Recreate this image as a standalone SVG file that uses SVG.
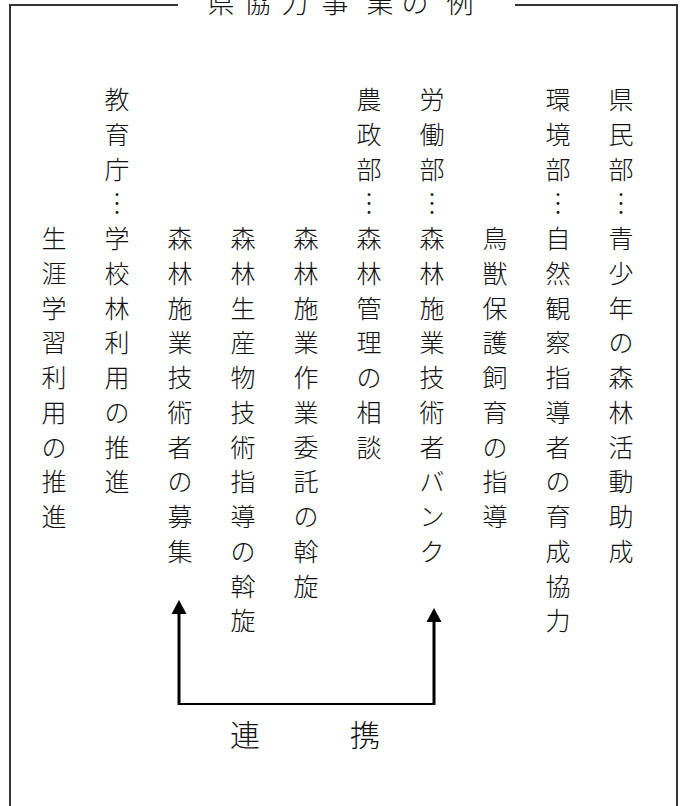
<svg xmlns="http://www.w3.org/2000/svg" width="683" height="806" viewBox="0 0 683 806">
<style>
.frame{fill:none;stroke:#333;stroke-width:2}
.t{font-family:"Noto Sans CJK JP","Noto Sans CJK SC",sans-serif;font-size:25px;font-weight:300;fill:#111;text-anchor:middle;dominant-baseline:central}
.lbl{font-family:"Noto Sans CJK JP","Noto Sans CJK SC",sans-serif;font-size:30px;font-weight:300;fill:#111;text-anchor:middle;dominant-baseline:central}
.title{font-family:"Noto Sans CJK JP","Noto Sans CJK SC",sans-serif;font-size:27px;font-weight:300;fill:#111;text-anchor:middle}
.shaft{fill:none;stroke:#000;stroke-width:3}
.link{fill:none;stroke:#000;stroke-width:2}
</style>
<defs>
<marker id="ah" markerUnits="userSpaceOnUse" markerWidth="16" markerHeight="16" viewBox="0 0 16 16" refX="0" refY="8" orient="auto">
<path d="M0,0.5 L14,8 L0,15.5 Z" fill="#000"/>
</marker>
</defs>
<rect width="683" height="806" fill="#fff"/>
<g id="frame">
<path class="frame" d="M178,5 H10 V810"/>
<path class="frame" d="M515,5 H677 V810"/>
</g>
<g id="title">
<text class="title" y="13"><tspan x="221">県</tspan><tspan x="257">協</tspan><tspan x="295">力</tspan><tspan x="335">事</tspan><tspan x="380">業</tspan><tspan x="415">の</tspan><tspan x="460">例</tspan></text>
</g>
<g id="col-kenmin">
<text class="t"><tspan x="621" y="98">県</tspan><tspan x="621" y="132.75">民</tspan><tspan x="621" y="167.5">部</tspan><tspan x="621" y="202.25">︙</tspan><tspan x="621" y="237">青</tspan><tspan x="621" y="271.75">少</tspan><tspan x="621" y="306.5">年</tspan><tspan x="621" y="341.25">の</tspan><tspan x="621" y="376">森</tspan><tspan x="621" y="410.75">林</tspan><tspan x="621" y="445.5">活</tspan><tspan x="621" y="480.25">動</tspan><tspan x="621" y="515">助</tspan><tspan x="621" y="549.75">成</tspan></text>
</g>
<g id="col-kankyo">
<text class="t"><tspan x="558" y="98">環</tspan><tspan x="558" y="132.75">境</tspan><tspan x="558" y="167.5">部</tspan><tspan x="558" y="202.25">︙</tspan><tspan x="558" y="237">自</tspan><tspan x="558" y="271.75">然</tspan><tspan x="558" y="306.5">観</tspan><tspan x="558" y="341.25">察</tspan><tspan x="558" y="376">指</tspan><tspan x="558" y="410.75">導</tspan><tspan x="558" y="445.5">者</tspan><tspan x="558" y="480.25">の</tspan><tspan x="558" y="515">育</tspan><tspan x="558" y="549.75">成</tspan><tspan x="558" y="584.5">協</tspan><tspan x="558" y="619.25">力</tspan></text>
</g>
<g id="col-choju">
<text class="t"><tspan x="495" y="237">鳥</tspan><tspan x="495" y="271.75">獣</tspan><tspan x="495" y="306.5">保</tspan><tspan x="495" y="341.25">護</tspan><tspan x="495" y="376">飼</tspan><tspan x="495" y="410.75">育</tspan><tspan x="495" y="445.5">の</tspan><tspan x="495" y="480.25">指</tspan><tspan x="495" y="515">導</tspan></text>
</g>
<g id="col-rodo">
<text class="t"><tspan x="432" y="98">労</tspan><tspan x="432" y="132.75">働</tspan><tspan x="432" y="167.5">部</tspan><tspan x="432" y="202.25">︙</tspan><tspan x="432" y="237">森</tspan><tspan x="432" y="271.75">林</tspan><tspan x="432" y="306.5">施</tspan><tspan x="432" y="341.25">業</tspan><tspan x="432" y="376">技</tspan><tspan x="432" y="410.75">術</tspan><tspan x="432" y="445.5">者</tspan><tspan x="432" y="480.25">バ</tspan><tspan x="432" y="515">ン</tspan><tspan x="432" y="549.75">ク</tspan></text>
</g>
<g id="col-nosei">
<text class="t"><tspan x="369" y="98">農</tspan><tspan x="369" y="132.75">政</tspan><tspan x="369" y="167.5">部</tspan><tspan x="369" y="202.25">︙</tspan><tspan x="369" y="237">森</tspan><tspan x="369" y="271.75">林</tspan><tspan x="369" y="306.5">管</tspan><tspan x="369" y="341.25">理</tspan><tspan x="369" y="376">の</tspan><tspan x="369" y="410.75">相</tspan><tspan x="369" y="445.5">談</tspan></text>
</g>
<g id="col-itaku">
<text class="t"><tspan x="306" y="237">森</tspan><tspan x="306" y="271.75">林</tspan><tspan x="306" y="306.5">施</tspan><tspan x="306" y="341.25">業</tspan><tspan x="306" y="376">作</tspan><tspan x="306" y="410.75">業</tspan><tspan x="306" y="445.5">委</tspan><tspan x="306" y="480.25">託</tspan><tspan x="306" y="515">の</tspan><tspan x="306" y="549.75">斡</tspan><tspan x="306" y="584.5">旋</tspan></text>
</g>
<g id="col-seisan">
<text class="t"><tspan x="243" y="237">森</tspan><tspan x="243" y="271.75">林</tspan><tspan x="243" y="306.5">生</tspan><tspan x="243" y="341.25">産</tspan><tspan x="243" y="376">物</tspan><tspan x="243" y="410.75">技</tspan><tspan x="243" y="445.5">術</tspan><tspan x="243" y="480.25">指</tspan><tspan x="243" y="515">導</tspan><tspan x="243" y="549.75">の</tspan><tspan x="243" y="584.5">斡</tspan><tspan x="243" y="619.25">旋</tspan></text>
</g>
<g id="col-boshu">
<text class="t"><tspan x="180" y="237">森</tspan><tspan x="180" y="271.75">林</tspan><tspan x="180" y="306.5">施</tspan><tspan x="180" y="341.25">業</tspan><tspan x="180" y="376">技</tspan><tspan x="180" y="410.75">術</tspan><tspan x="180" y="445.5">者</tspan><tspan x="180" y="480.25">の</tspan><tspan x="180" y="515">募</tspan><tspan x="180" y="549.75">集</tspan></text>
</g>
<g id="col-kyoiku">
<text class="t"><tspan x="117" y="98">教</tspan><tspan x="117" y="132.75">育</tspan><tspan x="117" y="167.5">庁</tspan><tspan x="117" y="202.25">︙</tspan><tspan x="117" y="237">学</tspan><tspan x="117" y="271.75">校</tspan><tspan x="117" y="306.5">林</tspan><tspan x="117" y="341.25">利</tspan><tspan x="117" y="376">用</tspan><tspan x="117" y="410.75">の</tspan><tspan x="117" y="445.5">推</tspan><tspan x="117" y="480.25">進</tspan></text>
</g>
<g id="col-shogai">
<text class="t"><tspan x="54" y="237">生</tspan><tspan x="54" y="271.75">涯</tspan><tspan x="54" y="306.5">学</tspan><tspan x="54" y="341.25">習</tspan><tspan x="54" y="376">利</tspan><tspan x="54" y="410.75">用</tspan><tspan x="54" y="445.5">の</tspan><tspan x="54" y="480.25">推</tspan><tspan x="54" y="515">進</tspan></text>
</g>
<g id="connectors">
<path class="link" d="M179,704 H434"/>
<path class="shaft" d="M179,705 V614" marker-end="url(#ah)"/>
<path class="shaft" d="M434,705 V622" marker-end="url(#ah)"/>
</g>
<g id="label-renkei">
<text class="lbl"><tspan x="245" y="733">連</tspan><tspan x="365" y="733">携</tspan></text>
</g>
</svg>
